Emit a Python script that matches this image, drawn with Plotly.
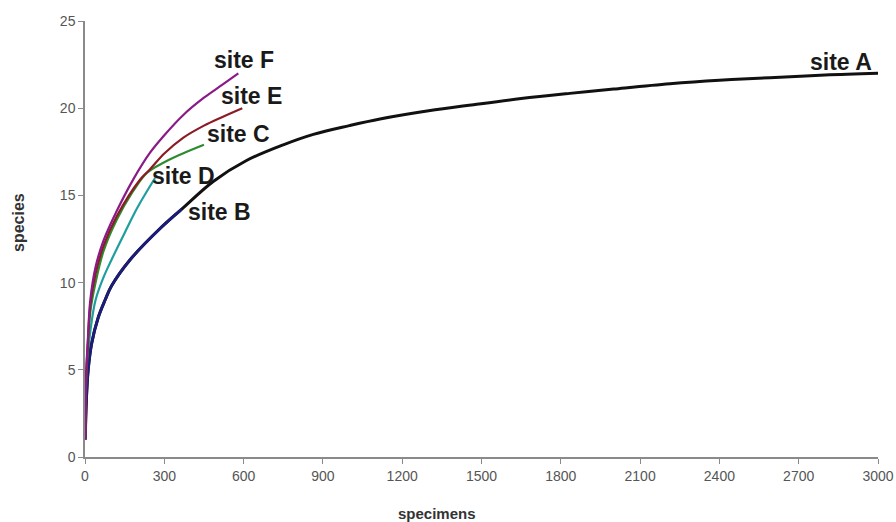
import plotly.graph_objects as go

# Site A (black)
a_x = [1, 5, 12, 25, 50, 76, 100, 170, 284, 365, 485, 611, 750, 864, 1000, 1116, 1300, 1470, 1650, 1834, 2000, 2213, 2400, 2591, 2800, 3000]
a_y = [1, 3.2, 5, 6.5, 8, 9, 9.8, 11.3, 13.1, 14.2, 15.8, 17.0, 17.9, 18.5, 19.0, 19.38, 19.85, 20.2, 20.55, 20.85, 21.1, 21.4, 21.6, 21.75, 21.9, 22.0]
# Site B (navy)
b_x = [1, 5, 12, 25, 50, 76, 100, 170, 284, 365]
b_y = [1, 3.2, 5, 6.5, 8, 9, 9.8, 11.3, 13.1, 14.2]
# Site C (green)
c_x = [1, 5, 10, 20, 40, 70, 120, 180, 235, 300, 370, 450]
c_y = [1, 4.5, 6.0, 8.3, 10.0, 11.8, 13.6, 15.2, 16.3, 16.9, 17.4, 17.9]
# Site D (teal)
d_x = [1, 5, 10, 20, 40, 70, 100, 150, 200, 265]
d_y = [1, 4.0, 5.5, 7.2, 9.0, 10.3, 11.3, 12.85, 14.35, 16.0]
# Site E (dark red)
e_x = [1, 5, 10, 20, 40, 70, 120, 208, 246, 300, 371, 450, 520, 595]
e_y = [1, 4.8, 6.3, 8.7, 10.5, 12.1, 13.8, 15.9, 16.5, 17.4, 18.3, 19.0, 19.5, 20.0]
# Site F (purple)
f_x = [1, 5, 10, 20, 40, 70, 120, 180, 246, 300, 371, 450, 520, 580]
f_y = [1, 5.0, 6.5, 9.0, 10.9, 12.4, 14.1, 15.85, 17.45, 18.45, 19.6, 20.6, 21.35, 22.0]

labels = ["site A", "site B", "site C", "site D", "site E", "site F"]
label_x = [2859, 507, 579, 371, 628, 601]
label_y = [22.65, 14.05, 18.52, 16.11, 20.7, 22.76]

x_ticks = [0, 300, 600, 900, 1200, 1500, 1800, 2100, 2400, 2700, 3000]
y_ticks = [0, 5, 10, 15, 20, 25]

series = [
    (a_x, a_y, "#111111", 3.0),
    (d_x, d_y, "#1f9e9e", 2.2),
    (b_x, b_y, "#1c1c7a", 2.8),
    (c_x, c_y, "#2e8b2e", 2.2),
    (e_x, e_y, "#8b1c24", 2.2),
    (f_x, f_y, "#8a1a86", 2.2),
]

FONT = "Liberation Sans, Arial, sans-serif"

fig = go.Figure()
for xs, ys, col, w in series:
    fig.add_trace(go.Scatter(x=xs, y=ys, mode="lines",
                             line=dict(color=col, width=w, shape="spline", smoothing=1.0),
                             showlegend=False, hoverinfo="skip"))

for t, lx, ly in zip(labels, label_x, label_y):
    fig.add_annotation(x=lx, y=ly, text="<b>" + t + "</b>", showarrow=False,
                       font=dict(family=FONT, size=23, color="#1a1a1a"),
                       xanchor="center", yanchor="middle")

fig.add_annotation(xref="paper", yref="paper", x=(437 - 85) / (878 - 85), y=-(513 - 457) / (457 - 21),
                   text="<b>specimens</b>", showarrow=False, yanchor="middle", xanchor="center",
                   font=dict(family=FONT, size=15, color="#333"))
fig.add_annotation(xref="paper", yref="paper", x=-(85 - 18) / (878 - 85), y=(457 - 223) / (457 - 21),
                   text="<b>species</b>", showarrow=False, textangle=-90, xanchor="center", yanchor="middle",
                   font=dict(family=FONT, size=16, color="#333"))

axis_common = dict(showgrid=False, zeroline=False, showline=True, linecolor="#8a8a8a",
                   linewidth=1.5, ticks="outside", ticklen=5, tickcolor="#8a8a8a", tickwidth=1.2,
                   automargin=False,
                   tickfont=dict(family=FONT, size=14, color="#555"))

fig.update_xaxes(range=[0, 3000], tickvals=x_ticks, ticktext=[str(v) for v in x_ticks], **axis_common)
fig.update_yaxes(range=[0, 25], tickvals=y_ticks, ticktext=[str(v) for v in y_ticks], **axis_common)

fig.update_layout(width=896, height=522, margin=dict(l=85, r=18, t=21, b=65),
                  plot_bgcolor="white", paper_bgcolor="white")

fig.write_html("out.html")
